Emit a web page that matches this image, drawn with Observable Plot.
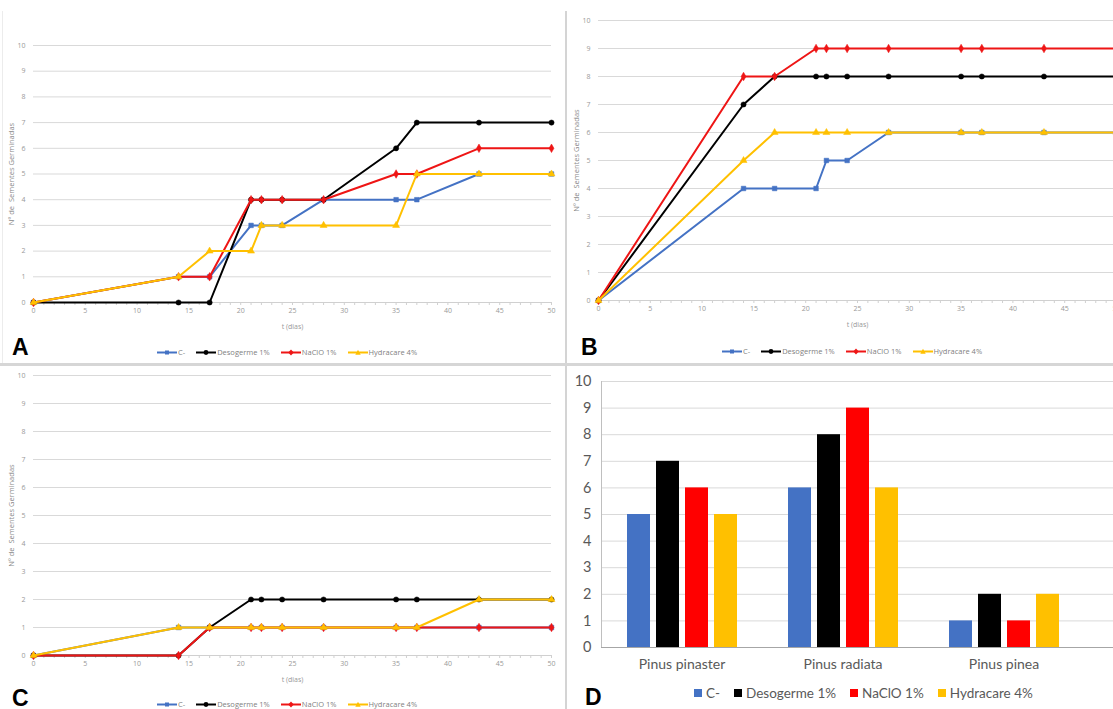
<!DOCTYPE html>
<html><head><meta charset="utf-8">
<script src="https://cdn.jsdelivr.net/npm/d3@7"></script>
<script src="https://cdn.jsdelivr.net/npm/@observablehq/plot@0.6"></script>
<style>
body{margin:0;background:#fff;}
#wrap{position:relative;width:1113px;height:709px;overflow:hidden;font-family:"Open Sans",sans-serif;background:#fff;}
.letter{position:absolute;font-family:"Liberation Sans",Arial,sans-serif;font-weight:bold;font-size:23px;color:#000;line-height:1;}
.leg{position:absolute;display:flex;align-items:center;white-space:nowrap;color:#7f7f7f;font-size:7.5px;}
.leg .it{display:flex;align-items:center;margin-right:11px;}
.legD{position:absolute;display:flex;align-items:center;white-space:nowrap;color:#595959;font-size:13.5px;font-family:Lato,"Open Sans",sans-serif;}
.legD .it{display:flex;align-items:center;margin-right:14px;}
.legD .sw{width:8px;height:8px;margin-right:4px;}
</style></head><body><div id="wrap"></div>
<script>
// ---- data ----
const days = [0, 14, 17, 21, 22, 24, 28, 35, 37, 43, 50];
const seriesNames = ["C-", "Desogerme 1%", "NaClO 1%", "Hydracare 4%"];
const lineColors = ["#4472C4", "#000000", "#EE1515", "#FFC000"];
const barColors = ["#4472C4", "#000000", "#FF0000", "#FFC000"];
const seriesSymbols = ["square", "circle", "diamond", "triangle"];
const yTicks = [0, 1, 2, 3, 4, 5, 6, 7, 8, 9, 10];
const xTicks = [0, 5, 10, 15, 20, 25, 30, 35, 40, 45, 50];
const xMinorTicks = d3.range(0, 51);

// A - Pinus pinaster
const pinasterC   = [0, 1, 1, 3, 3, 3, 4, 4, 4, 5, 5];
const pinasterDes = [0, 0, 0, 4, 4, 4, 4, 6, 7, 7, 7];
const pinasterNa  = [0, 1, 1, 4, 4, 4, 4, 5, 5, 6, 6];
const pinasterHy  = [0, 1, 2, 2, 3, 3, 3, 3, 5, 5, 5];
// B - Pinus radiata
const radiataC   = [0, 4, 4, 4, 5, 5, 6, 6, 6, 6, 6];
const radiataDes = [0, 7, 8, 8, 8, 8, 8, 8, 8, 8, 8];
const radiataNa  = [0, 8, 8, 9, 9, 9, 9, 9, 9, 9, 9];
const radiataHy  = [0, 5, 6, 6, 6, 6, 6, 6, 6, 6, 6];
// C - Pinus pinea
const pineaC   = [0, 1, 1, 1, 1, 1, 1, 1, 1, 1, 1];
const pineaDes = [0, 0, 1, 2, 2, 2, 2, 2, 2, 2, 2];
const pineaNa  = [0, 0, 1, 1, 1, 1, 1, 1, 1, 1, 1];
const pineaHy  = [0, 1, 1, 1, 1, 1, 1, 1, 1, 2, 2];
// D - final counts
const species = ["Pinus pinaster", "Pinus radiata", "Pinus pinea"];
const finalC   = [5, 6, 1];
const finalDes = [7, 8, 2];
const finalNa  = [6, 9, 1];
const finalHy  = [5, 6, 2];

const wrap = document.getElementById("wrap");
function place(el, left, top) {
  el.style.position = "absolute"; el.style.left = left + "px"; el.style.top = top + "px";
  wrap.appendChild(el); return el;
}

function lineChart(arrays, {width, height, marginTop, marginLeft, marginRight, marginBottom}) {
  const data = seriesNames.flatMap((s, i) => days.map((t, j) => ({t, v: arrays[i][j], s})));
  const seriesMarks = seriesNames.flatMap((s, i) => {
    const d = data.filter(e => e.s === s);
    return [
      Plot.line(d, {x: "t", y: "v", stroke: lineColors[i], strokeWidth: 2}),
      Plot.dot(d, {x: "t", y: "v", fill: lineColors[i], stroke: lineColors[i], strokeWidth: 0.5, symbol: seriesSymbols[i], r: 2.6})
    ];
  });
  return Plot.plot({
    width, height, marginTop, marginLeft, marginRight, marginBottom,
    style: {fontFamily: "'Open Sans', sans-serif", background: "transparent", overflow: "visible"},
    x: {domain: [0, 50]},
    y: {domain: [0, 10]},
    marks: [
      Plot.gridY(yTicks, {stroke: "#d9d9d9", strokeOpacity: 1}),
      Plot.ruleY([0], {stroke: "#d0d0d0"}),
      Plot.axisX(xMinorTicks, {tickSize: 3, text: null, stroke: "#d0d0d0", label: null}),
      Plot.axisX(xTicks, {tickSize: 0, tickPadding: 6, fontSize: 7, fill: "#999", label: "t (dias)", labelAnchor: "center", labelOffset: 26, labelArrow: "none"}),
      Plot.axisY(yTicks, {tickSize: 0, tickPadding: 8, fontSize: 7, fill: "#999", label: null}),
      Plot.axisY(yTicks, {tickSize: 0, text: null, fontSize: 7.5, fill: "#8a8a8a", label: "Nº de  Sementes Germinadas", labelAnchor: "center", labelOffset: 25, labelArrow: "none"}),
      ...seriesMarks
    ]
  });
}

function lineLegend(left, top) {
  const div = document.createElement("div");
  div.className = "leg";
  seriesNames.forEach((s, i) => {
    const it = document.createElement("div"); it.className = "it";
    const sym = {square: '<rect x="8" y="1.5" width="4" height="4"/>', circle: '<circle cx="10" cy="3.5" r="2.4"/>', diamond: '<path d="M10 0.5 L12.8 3.5 L10 6.5 L7.2 3.5Z"/>', triangle: '<path d="M10 0.7 L12.7 5.8 L7.3 5.8Z"/>'}[seriesSymbols[i]];
    it.innerHTML = `<svg width="20" height="7" style="margin-right:1px"><line x1="0" x2="20" y1="3.5" y2="3.5" stroke="${lineColors[i]}" stroke-width="2"/><g fill="${lineColors[i]}">${sym}</g></svg><span>${s}</span>`;
    div.appendChild(it);
  });
  return place(div, left, top);
}

function letter(ch, left, top) {
  const d = document.createElement("div"); d.className = "letter"; d.textContent = ch; return place(d, left, top);
}

function rule(left, top, w, h, color) {
  const d = document.createElement("div");
  d.style.width = w + "px"; d.style.height = h + "px"; d.style.background = color;
  return place(d, left, top);
}
rule(565, 11, 2, 698, "#d4d4d4");
rule(0, 363, 1113, 3, "#d6d6d6");
rule(2, 11, 1, 352, "#ececec");

// A
place(lineChart([pinasterC, pinasterDes, pinasterNa, pinasterHy], {width: 566, height: 335, marginTop: 45, marginLeft: 33, marginRight: 15, marginBottom: 33}), 0, 0);
lineLegend(157, 347);
letter("A", 12, 336);

// B
place(lineChart([radiataC, radiataDes, radiataNa, radiataHy], {width: 566, height: 335, marginTop: 20, marginLeft: 32, marginRight: 16, marginBottom: 35}), 566, 0);
lineLegend(722, 346);
letter("B", 581, 336);

// C
place(lineChart([pineaC, pineaDes, pineaNa, pineaHy], {width: 566, height: 326, marginTop: 11, marginLeft: 33, marginRight: 15, marginBottom: 35}), 0, 364);
lineLegend(157, 699);
letter("C", 12, 687);

// D
const barData = species.flatMap((sp, k) => seriesNames.map((s, i) => ({sp, s, v: [finalC, finalDes, finalNa, finalHy][i][k]})));
const dGrid = Plot.plot({
  width: 547, height: 320, marginTop: 17, marginLeft: 35, marginRight: 0, marginBottom: 37,
  style: {fontFamily: "Lato, 'Open Sans', sans-serif", background: "transparent"},
  y: {domain: [0, 10]},
  x: {domain: [0, 1], axis: null},
  marks: [
    Plot.gridY(yTicks, {stroke: "#d9d9d9", strokeOpacity: 1}),
    Plot.axisY(yTicks, {tickSize: 0, tickPadding: 10, fontSize: 14.5, fill: "#595959", label: null}),
    Plot.ruleX([0], {stroke: "#bfbfbf"}),
    Plot.ruleY([0], {stroke: "#a6a6a6"})
  ]
});
place(dGrid, 566, 364);
const dBars = Plot.plot({
  width: 547, height: 320, marginTop: 17, marginLeft: 35, marginRight: 29, marginBottom: 37,
  style: {fontFamily: "Lato, 'Open Sans', sans-serif", background: "transparent"},
  y: {domain: [0, 10], axis: null},
  x: {domain: seriesNames, paddingInner: 0.21, paddingOuter: 0.88, axis: null},
  fx: {domain: species, padding: 0},
  color: {domain: seriesNames, range: barColors},
  marks: [
    Plot.barY(barData, {fx: "sp", x: "s", y: "v", fill: "s"}),
    Plot.axisFx({anchor: "bottom", tickSize: 0, tickPadding: 12, fontSize: 14, fill: "#595959", label: null})
  ]
});
place(dBars, 566, 364);
(function () {
  const div = document.createElement("div"); div.className = "legD";
  seriesNames.forEach((s, i) => {
    const it = document.createElement("div"); it.className = "it";
    it.innerHTML = `<div class="sw" style="background:${barColors[i]}"></div><span>${s}</span>`;
    div.appendChild(it);
  });
  place(div, 694, 685);
})();
letter("D", 585, 686);
</script></body></html>
